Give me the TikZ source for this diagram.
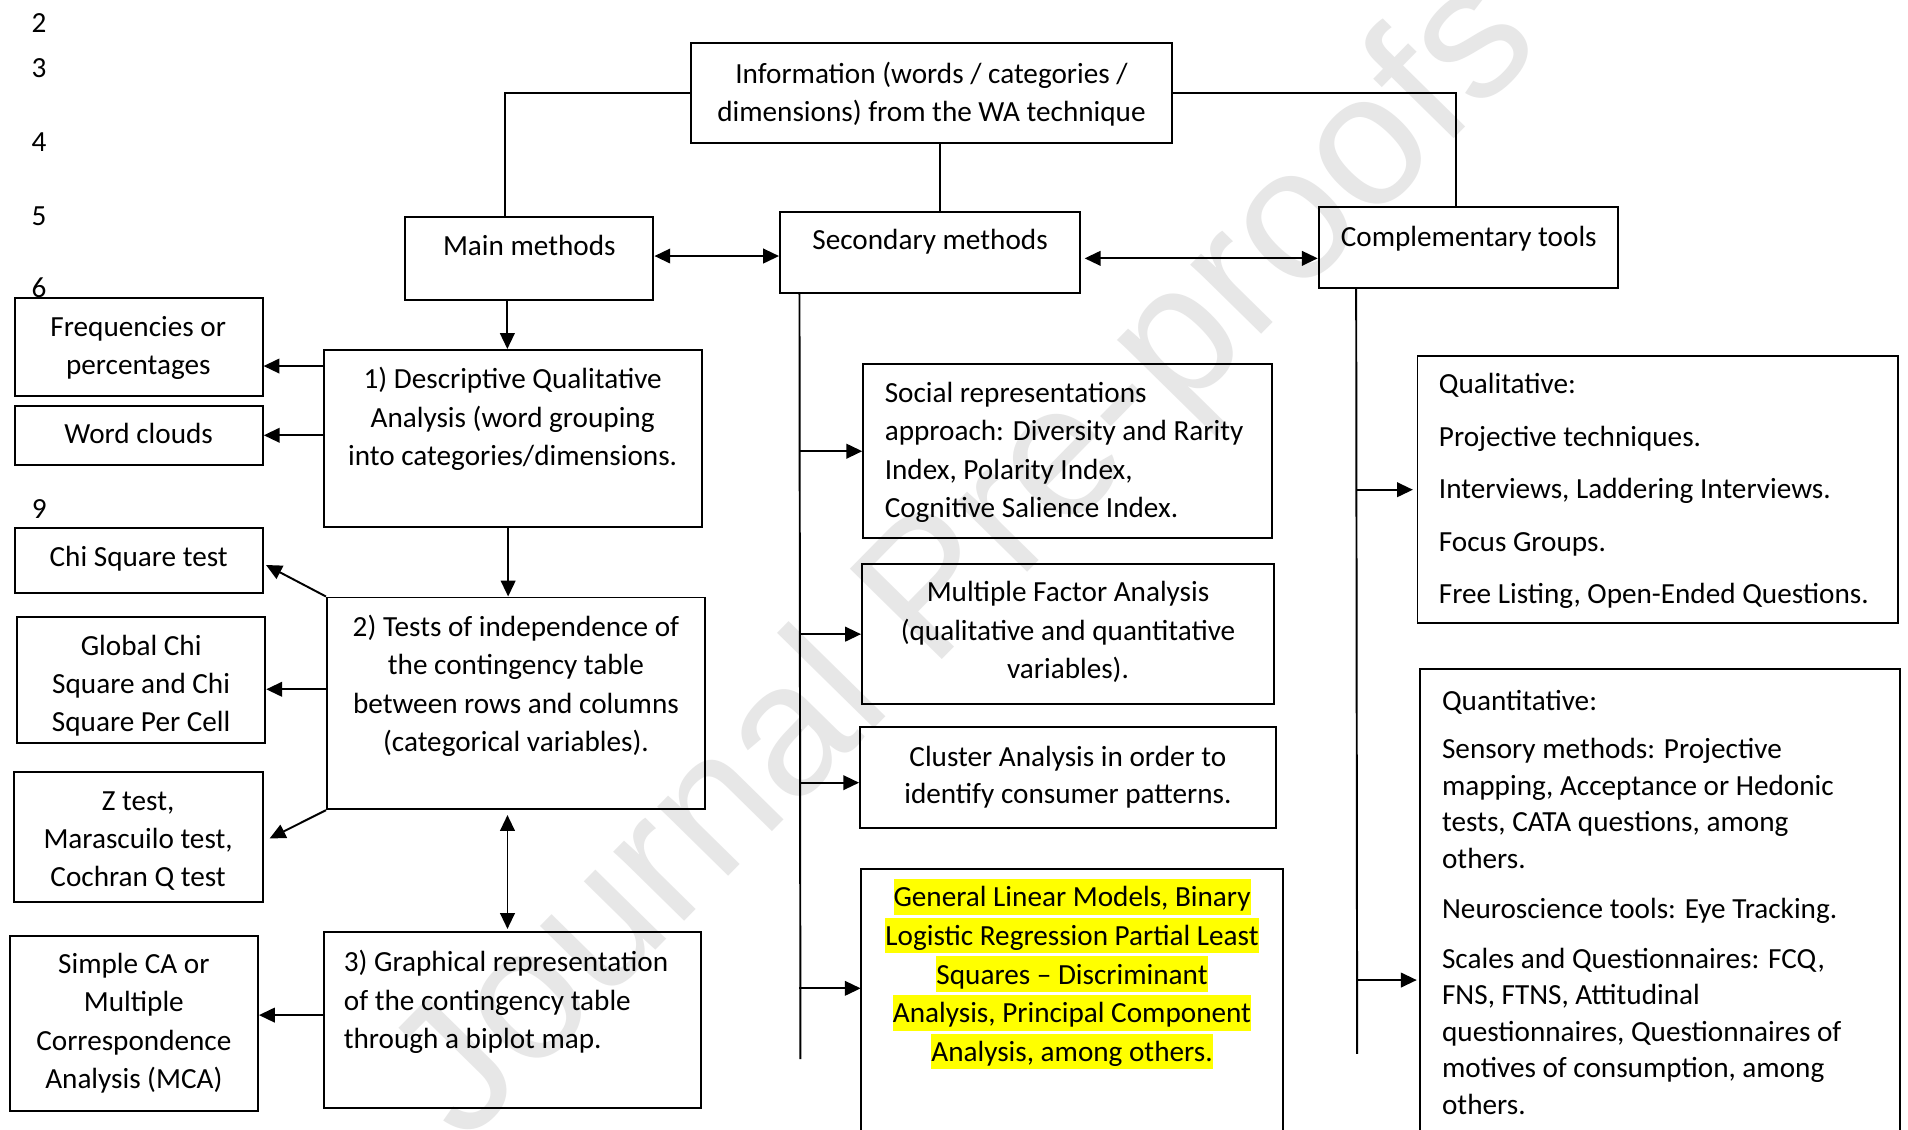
\documentclass[tikz,border=0pt]{standalone}
\usepackage{fontspec}
\setmainfont{Carlito}
\newfontfamily\wmfont{Liberation Sans}
\usetikzlibrary{arrows.meta,fit}
\definecolor{wmgray}{RGB}{231,231,231}
\definecolor{hlyellow}{RGB}{255,255,0}
\newcommand{\hlt}[1]{{\setlength{\fboxsep}{0pt}\colorbox{hlyellow}{\rule[-0.269em]{0pt}{1.221em}#1}}}
\begin{document}
\begin{tikzpicture}[x=0.5pt,y=-0.5pt,
  box/.style={draw=black, line width=0.8pt, inner sep=0pt},
  txt/.style={inner sep=0pt, font=\fontsize{12}{15.8}\selectfont, anchor=base},
  conn/.style={line width=0.8pt},
  arr/.style={conn, -{Triangle[length=6.5pt,width=6pt]}},
  darr/.style={conn, {Triangle[length=6.5pt,width=6pt]}-{Triangle[length=6.5pt,width=6pt]}}]
\useasboundingbox (0,0) rectangle (1568,928);
\clip (0,0) rectangle (1568,928);
\fill[white] (0,0) rectangle (1568,928);
% watermark
\node[inner sep=0pt, font=\wmfont\fontsize{77}{77}\selectfont, text=wmgray, rotate=45.5] (wm) at (797,462) {Journal Pre-proofs};
% line numbers
\node[txt, anchor=base west] (n2) at (25.6,27) {2};
\node[txt, anchor=base west] (n3) at (25.6,63.5) {3};
\node[txt, anchor=base west] (n4) at (25.6,124.7) {4};
\node[txt, anchor=base west] (n5) at (25.6,184.9) {5};
\node[txt, anchor=base west] (n6) at (25.6,244.6) {6};
\node[txt, anchor=base west] (n9) at (25.7,426) {9};
% boxes
\node[box, fit={(568,35.6) (963,117.7)}] (info) {};
\node[box, fit={(332.5,178) (537,246.6)}] (main) {};
\node[box, fit={(641,174) (887.6,241)}] (sec) {};
\node[box, fit={(1083.7,170) (1330,236.7)}] (comp) {};
\node[box, fit={(12,245.2) (215.8,325.4)}] (freq) {};
\node[box, fit={(12,333.4) (216,382)}] (word) {};
\node[box, fit={(266,287.6) (576.6,433.4)}] (desc) {};
\node[box, fit={(12,434.2) (216,487)}] (chi) {};
\node[box, fit={(268.7,491) (579,665)}] (tests) {};
\node[box, fit={(14.3,506.8) (218,610.9)}] (gchi) {};
\node[box, fit={(11.3,634.2) (215.8,741)}] (ztest) {};
\node[box, fit={(8.3,769) (212,913)}] (sca) {};
\node[box, fit={(266,766.2) (576,910.9)}] (graph) {};
\node[box, fit={(709.4,299.2) (1045.4,442.4)}] (social) {};
\node[box, fit={(708.4,463.5) (1047,578.8)}] (mfa) {};
\node[box, fit={(706.8,597.7) (1048.4,680.7)}] (cluster) {};
\node[box, fit={(707.3,714.4) (1054.7,960)}] (glm) {};
\node[box, fit={(1164.9,292.6) (1559.8,512.3)}] (qual) {};
\node[box, fit={(1167.3,550) (1561.5,960)}] (quant) {};
% texts (multi-line nodes: base = baseline of the last line)
\node[txt, align=center, font=\fontsize{12}{15.5}\selectfont] (infot) at (765.5,100) {Information (words / categories /\\dimensions) from the WA technique};
\node[txt] (maint) at (435,209.6) {Main methods};
\node[txt] (sect) at (764.3,204.9) {Secondary methods};
\node[txt] (compt) at (1207,202.7) {Complementary tools};
\node[txt, align=center, font=\fontsize{12}{15.5}\selectfont] (freqt) at (113.6,307.7) {Frequencies or\\percentages};
\node[txt] (wordt) at (114,364.3) {Word clouds};
\node[txt, align=center] (desct) at (421.3,382.7) {1) Descriptive Qualitative\\Analysis (word grouping\\into categories/dimensions.};
\node[txt] (chit) at (114,465.7) {Chi Square test};
\node[txt, align=center] (testst) at (424,617.8) {2) Tests of independence of\\the contingency table\\between rows and columns\\(categorical variables).};
\node[txt, align=center] (gchit) at (116,601.5) {Global Chi\\Square and Chi\\Square Per Cell};
\node[txt, align=center] (ztestt) at (113.5,728.9) {Z test,\\Marascuilo test,\\Cochran Q test};
\node[txt, align=center] (scat) at (110,894.8) {Simple CA or\\Multiple\\Correspondence\\Analysis (MCA)};
\node[txt, align=left, anchor=base west] (grapht) at (282.2,861.7) {3) Graphical representation\\of the contingency table\\through a biplot map.};
\node[txt, align=left, anchor=base west] (socialt) at (726.7,425.3) {Social representations\\approach: Diversity and Rarity\\Index, Polarity Index,\\Cognitive Salience Index.};
\node[txt, align=center] (mfat) at (877.7,557.7) {Multiple Factor Analysis\\(qualitative and quantitative\\variables).};
\node[txt, align=center, font=\fontsize{12}{15.4}\selectfont] (clustert) at (877.6,660.3) {Cluster Analysis in order to\\identify consumer patterns.};
\node[txt, align=center, font=\fontsize{12}{15.9}\selectfont] (glmt) at (881,872.3) {\hlt{General Linear Models, Binary}\\\hlt{Logistic Regression Partial Least}\\\hlt{Squares – Discriminant}\\\hlt{Analysis, Principal Component}\\\hlt{Analysis, among others.}};
\node[txt, align=left, anchor=base west, font=\fontsize{12}{21.6}\selectfont] (qualt) at (1182.1,496.3) {Qualitative:\\Projective techniques.\\Interviews, Laddering Interviews.\\Focus Groups.\\Free Listing, Open-Ended Questions.};
\node[txt, align=left, anchor=base west, font=\fontsize{12}{15}\selectfont] (quantt) at (1184.7,915.5) {Quantitative:\\[5pt]Sensory methods: Projective\\mapping, Acceptance or Hedonic\\tests, CATA questions, among\\others.\\[5.5pt]Neuroscience tools: Eye Tracking.\\[5.5pt]Scales and Questionnaires: FCQ,\\FNS, FTNS, Attitudinal\\questionnaires, Questionnaires of\\motives of consumption, among\\others.};
% connectors top
\draw[conn] (info.west) -| ([xshift=-9.9pt]main.north);
\draw[conn] (info.east) -| ([xshift=-5.2pt]comp.north);
\draw[conn] ([xshift=3.5pt]info.south) -- ([xshift=3.5pt]info.south |- sec.north);
\coordinate (msy) at (0,210.4);
\draw[darr] (main.east |- msy) -- (sec.west |- msy);
\coordinate (scy) at (0,212.3);
\draw[darr, shorten <=1.5pt] (sec.east |- scy) -- (comp.west |- scy);
% main methods chain
\draw[arr] ([xshift=-8.9pt]main.south) -- ([xshift=-8.9pt]main.south |- desc.north);
\coordinate (fa) at ([yshift=-7.75pt]freq.east);
\draw[arr] (desc.west |- fa) -- (fa);
\draw[arr] (desc.west |- word.east) -- (word.east);
\draw[arr] ([xshift=-1.85pt]desc.south) -- ([xshift=-1.85pt]desc.south |- tests.north);
\draw[arr] (tests.north west) -- ([xshift=0.9pt,yshift=-1.85pt]chi.east);
\coordinate (ga) at ([yshift=-3.8pt]gchi.east);
\draw[arr] (tests.west |- ga) -- (ga);
\draw[arr] (tests.south west) -- ([xshift=2.5pt,yshift=-0.7pt]ztest.east);
\draw[darr, shorten <=2pt, shorten >=1pt] ([xshift=-3.4pt]tests.south) -- ([xshift=-3.4pt]tests.south |- graph.north);
\coordinate (sa) at ([yshift=3.4pt]sca.east);
\draw[arr] (graph.west |- sa) -- (sa);
% secondary methods line
\coordinate (secA) at ([xshift=8.4pt]sec.south west);
\coordinate (secB) at (657.8,870.4);
\draw[conn] (secA) -- (secB);
\draw[arr] (secA |- social.west) -- (social.west);
\draw[arr] (secA |- mfa.west) -- (mfa.west);
\coordinate (ca) at ([yshift=-2pt]cluster.west);
\draw[arr] (secA |- ca) -- (ca);
\coordinate (gl) at (707.3,812.2);
\draw[arr] (secA |- gl) -- (gl);
% complementary tools line
\coordinate (compA) at ([xshift=15.8pt]comp.south west);
\coordinate (compB) at (1115.3,866);
\draw[conn] (compA) -- (compB);
\draw[arr, shorten >=1.5pt] (compA |- qual.west) -- (qual.west);
\coordinate (qa) at (1167.3,805.4);
\draw[arr, shorten >=1.5pt] (compA |- qa) -- (qa);
\end{tikzpicture}
\end{document}
